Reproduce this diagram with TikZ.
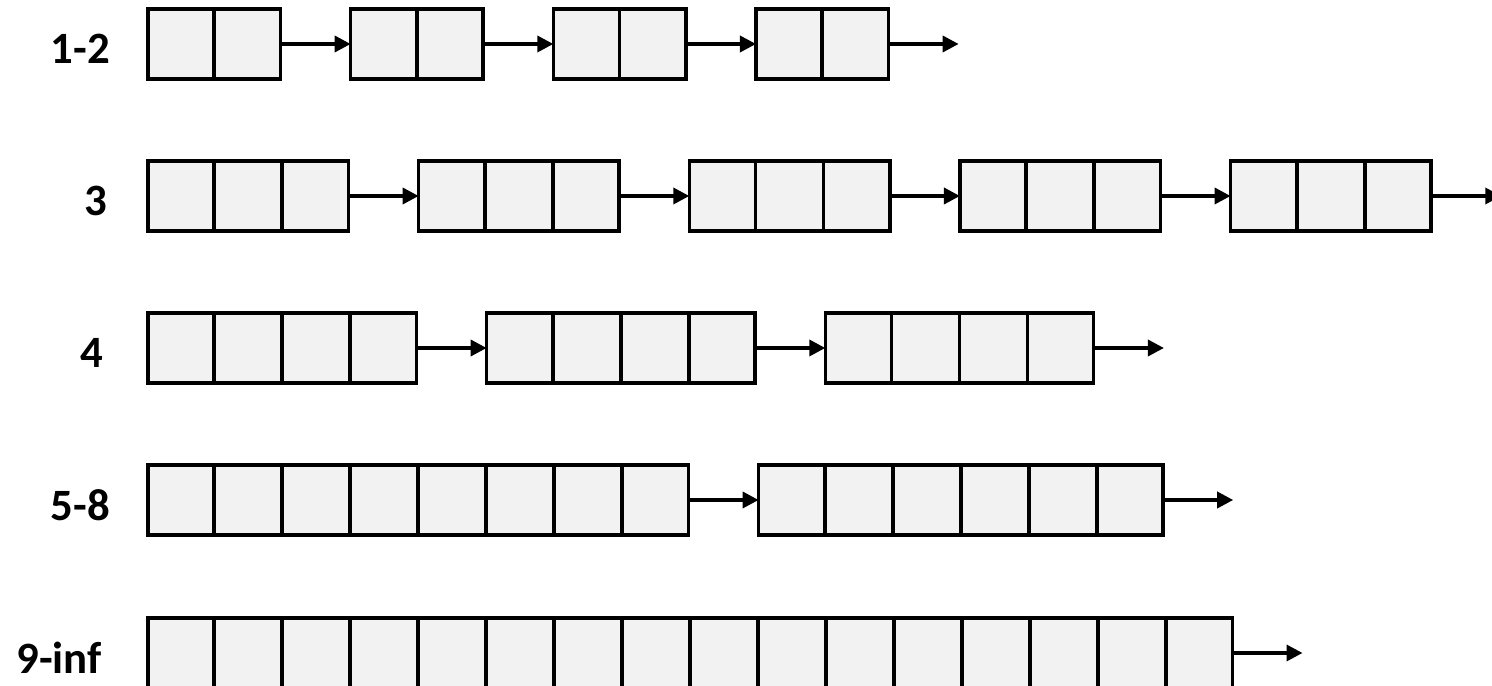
\documentclass[tikz,border=0pt]{standalone}
\usepackage{fontspec}
\setsansfont{Carlito}
\usepackage{tikz}
\usetikzlibrary{positioning,arrows.meta,shapes.multipart}
\definecolor{cfondo}{HTML}{F2F2F2}
\tikzset{
  bloque/.style={rectangle split, rectangle split horizontal, rectangle split parts=#1,
    rectangle split empty part width=1.138cm, rectangle split empty part height=0.7cm,
    rectangle split empty part depth=0.7cm, inner sep=0pt, outer sep=0pt,
    draw=black, fill=cfondo, line width=2pt},
  flecha/.style={-{Triangle[length=0.32cm, width=0.32cm]}, line width=2pt, draw=black},
  etq/.style={font=\sffamily\bfseries\fontsize{25.5}{30}\selectfont, yshift=-0.1cm},
}

\begin{document}
\begin{tikzpicture}[node distance=1.404cm and 1.404cm]
  \useasboundingbox (0,0) rectangle (29.84,13.72);
  % fila 1-2
  \node[bloque=2, anchor=west] (f1a) at (2.96,12.84) {};
  \node[bloque=2, right=of f1a] (f1b) {};
  \node[bloque=2, right=of f1b] (f1c) {};
  \node[bloque=2, right=of f1c] (f1d) {};
  \coordinate[right=of f1d] (f1fin);
  \draw[flecha] (f1a) -- (f1b);
  \draw[flecha] (f1b) -- (f1c);
  \draw[flecha] (f1c) -- (f1d);
  \draw[flecha] (f1d) -- (f1fin);
  \node[etq, left=0.64cm of f1a] (e1) {1-2};
  % fila 3
  \node[bloque=3, anchor=west] (f2a) at (2.96,9.8) {};
  \node[bloque=3, right=of f2a] (f2b) {};
  \node[bloque=3, right=of f2b] (f2c) {};
  \node[bloque=3, right=of f2c] (f2d) {};
  \node[bloque=3, right=of f2d] (f2e) {};
  \coordinate[right=of f2e] (f2fin);
  \draw[flecha] (f2a) -- (f2b);
  \draw[flecha] (f2b) -- (f2c);
  \draw[flecha] (f2c) -- (f2d);
  \draw[flecha] (f2d) -- (f2e);
  \draw[flecha] (f2e) -- (f2fin);
  \node[etq, left=0.70cm of f2a] (e2) {3};
  % fila 4
  \node[bloque=4, anchor=west] (f3a) at (2.96,6.76) {};
  \node[bloque=4, right=of f3a] (f3b) {};
  \node[bloque=4, right=of f3b] (f3c) {};
  \coordinate[right=of f3c] (f3fin);
  \draw[flecha] (f3a) -- (f3b);
  \draw[flecha] (f3b) -- (f3c);
  \draw[flecha] (f3c) -- (f3fin);
  \node[etq, left=0.78cm of f3a] (e3) {4};
  % fila 5-8
  \node[bloque=8, anchor=west] (f4a) at (2.96,3.72) {};
  \node[bloque=6, right=of f4a] (f4b) {};
  \coordinate[right=of f4b] (f4fin);
  \draw[flecha] (f4a) -- (f4b);
  \draw[flecha] (f4b) -- (f4fin);
  \node[etq, left=0.64cm of f4a] (e4) {5-8};
  % fila 9-inf
  \node[bloque=16, anchor=west] (f5a) at (2.96,0.66) {};
  \coordinate[right=of f5a] (f5fin);
  \draw[flecha] (f5a) -- (f5fin);
  \node[etq, left=0.80cm of f5a] (e5) {9-inf};
\end{tikzpicture}
\end{document}
